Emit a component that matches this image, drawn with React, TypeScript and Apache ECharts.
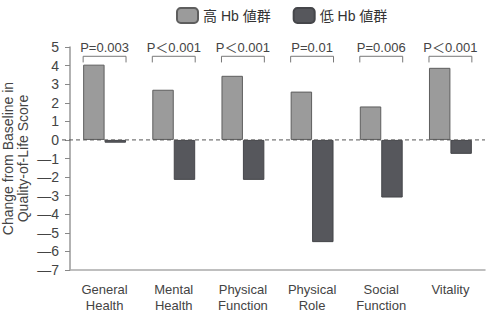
import React, { useEffect, useRef } from "react";
import * as echarts from "echarts";

const categories = [
  "General\nHealth",
  "Mental\nHealth",
  "Physical\nFunction",
  "Physical\nRole",
  "Social\nFunction",
  "Vitality",
];
const highHb = [4.05, 2.7, 3.45, 2.6, 1.8, 3.88];
const lowHb = [-0.15, -2.15, -2.15, -5.5, -3.1, -0.75];
const pLabels = ["P=0.003", "P＜0.001", "P＜0.001", "P=0.01", "P=0.006", "P＜0.001"];
const seriesNames = ["高 Hb 値群", "低 Hb 値群"];

const FONT = "'Liberation Sans', 'Noto Sans CJK JP', sans-serif";

export default function App() {
  const ref = useRef<HTMLDivElement>(null);
  useEffect(() => {
    document.body.style.margin = "0";
    if (!ref.current) return;
    const chart = echarts.init(ref.current, undefined, { renderer: "svg" });
    const barFrac = 0.31;
    chart.setOption({
      animation: false,
      textStyle: { fontFamily: FONT },
      legend: {
        data: seriesNames,
        left: 171,
        top: 2,
        itemWidth: 21,
        itemHeight: 15,
        itemGap: 22,
        textStyle: { fontSize: 14, color: "#333", fontFamily: FONT },
      },
      grid: { left: 70, right: 4, top: 47, bottom: 47, outerBoundsMode: "none" },
      xAxis: {
        type: "category",
        data: categories,
        axisLine: { onZero: false, lineStyle: { color: "#aaa", width: 1.5 } },
        axisTick: { show: false },
        axisLabel: {
          fontSize: 13,
          color: "#444",
          margin: 11,
          lineHeight: 16,
          interval: 0,
          fontFamily: FONT,
        },
      },
      yAxis: {
        type: "value",
        min: -7,
        max: 5,
        interval: 1,
        splitLine: { show: false },
        axisLine: { show: true, lineStyle: { color: "#999", width: 1.5 } },
        axisTick: { show: true, length: 5, lineStyle: { color: "#888" } },
        axisLabel: {
          fontSize: 14,
          color: "#444",
          margin: 11,
          fontFamily: FONT,
          formatter: (v: number) => (v < 0 ? "—" + Math.abs(v) : String(v)),
        },
        name: "Change from Baseline in\nQuality-of-Life Score",
        nameLocation: "middle",
        nameRotate: 90,
        nameGap: 40,
        nameMoveOverlap: false,
        nameTextStyle: { fontSize: 14, color: "#444", lineHeight: 15, fontFamily: FONT },
      },
      series: [
        {
          name: seriesNames[0],
          type: "bar",
          data: highHb,
          barWidth: "31%",
          barGap: "0%",
          itemStyle: { color: "#9b9b9b", borderColor: "#5e5e5e", borderWidth: 1 },
        },
        {
          name: seriesNames[1],
          type: "bar",
          data: lowHb,
          barWidth: "31%",
          barGap: "0%",
          itemStyle: { color: "#56575c", borderColor: "#45464a", borderWidth: 1 },
        },
        {
          type: "custom",
          data: [[0, 0]],
          z: 5,
          clip: false,
          renderItem: (params: any, api: any) => {
            const cs = params.coordSys;
            const y = api.coord([0, 0])[1];
            return {
              type: "line",
              shape: { x1: cs.x - 8, y1: y, x2: cs.x + cs.width, y2: y },
              style: { stroke: "#555", lineWidth: 1, lineDash: [4, 3] },
            };
          },
        },
        {
          type: "custom",
          data: pLabels.map((p, i) => [i, 5]),
          z: 10,
          clip: false,
          renderItem: (params: any, api: any) => {
            const idx = api.value(0);
            const band = api.size([1, 0])[0];
            const half = band * barFrac;
            const line = api.coord([idx, 4.5]);
            const tick = api.coord([idx, 4.17]);
            const txt = api.coord([idx, 5]);
            return {
              type: "group",
              children: [
                {
                  type: "polyline",
                  shape: {
                    points: [
                      [line[0] - half, tick[1]],
                      [line[0] - half, line[1]],
                      [line[0] + half, line[1]],
                      [line[0] + half, tick[1]],
                    ],
                  },
                  style: { stroke: "#777", lineWidth: 1, fill: "none" },
                },
                {
                  type: "text",
                  x: txt[0],
                  y: txt[1],
                  style: {
                    text: pLabels[idx],
                    fontSize: 13,
                    fill: "#444",
                    fontFamily: FONT,
                    align: "center",
                    verticalAlign: "middle",
                  },
                },
              ],
            };
          },
        },
      ],
    });
    return () => chart.dispose();
  }, []);
  return <div ref={ref} style={{ width: 489, height: 317 }} />;
}
